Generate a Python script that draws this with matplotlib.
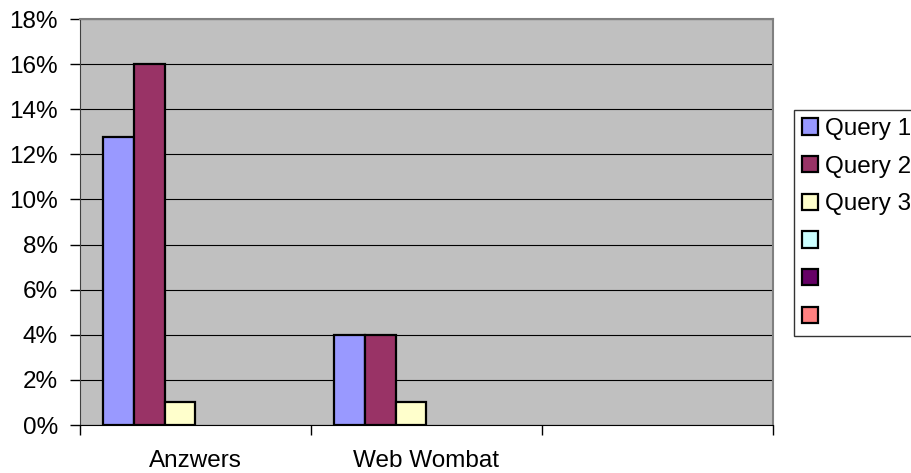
import numpy as np
import matplotlib
matplotlib.use("Agg")
import matplotlib.pyplot as plt
from matplotlib.patches import Patch
from matplotlib.ticker import FixedLocator, FuncFormatter

plt.rcParams['font.family'] = ['Liberation Sans', 'DejaVu Sans']

# values in percent
categories = ['Anzwers', 'Web Wombat', '']
series_names = ['Query 1', 'Query 2', 'Query 3', '', '', '']
query1 = [12.75, 4, 0]
query2 = [16, 4, 0]
query3 = [1, 1, 0]
query4 = [0, 0, 0]
query5 = [0, 0, 0]
query6 = [0, 0, 0]
yticks = [0, 2, 4, 6, 8, 10, 12, 14, 16, 18]

colors = ['#9999FF', '#993366', '#FFFFCC', '#CCFFFF', '#660066', '#FF8080']
all_series = [query1, query2, query3, query4, query5, query6]

fig = plt.figure(figsize=(9.12, 4.73), dpi=100)
ax = fig.add_axes([80 / 912, 48 / 473, 693 / 912, 406 / 473])
ax.set_facecolor('#C0C0C0')

x = np.arange(len(categories))
w = 0.134
for i, (vals, c) in enumerate(zip(all_series, colors)):
    vals = np.array(vals, dtype=float)
    mask = vals > 0
    ax.bar(x[mask] + (i - 2.5) * w, vals[mask], width=w, color=c,
           edgecolor='black', linewidth=1.6, zorder=3)

ax.set_xlim(-0.5, 2.5)
ax.set_ylim(0, 18)
ax.set_yticks(yticks)
ax.yaxis.set_major_formatter(FuncFormatter(lambda v, p: '%d%%' % v))
ax.yaxis.grid(True, color='black', linewidth=0.8, zorder=1)
ax.set_axisbelow(True)

ax.xaxis.set_major_locator(FixedLocator([-0.5, 0.5, 1.5, 2.5]))
ax.xaxis.set_major_formatter(FuncFormatter(lambda v, p: ''))
ax.xaxis.set_minor_locator(FixedLocator(x))
ax.set_xticklabels(categories, minor=True)
ax.tick_params(axis='x', which='major', direction='out', length=7, width=1)
ax.tick_params(axis='x', which='minor', length=0, pad=18, labelsize=17.5)
ax.tick_params(axis='y', direction='out', length=7, width=1, pad=9, labelsize=17.5)

for s in ['top', 'right']:
    ax.spines[s].set_color('#808080')
    ax.spines[s].set_linewidth(1.5)
ax.spines['left'].set_color('#404040')
ax.spines['bottom'].set_color('black')

handles = [Patch(facecolor=c, edgecolor='black', linewidth=1.6) for c in colors]
leg = fig.legend(handles, series_names, loc='upper left',
                 bbox_to_anchor=(794 / 912, 1 - 110 / 473),
                 bbox_transform=fig.transFigure, borderaxespad=0,
                 fontsize=17.5, frameon=True, fancybox=False,
                 handlelength=0.65, handleheight=0.65, handletextpad=0.3,
                 borderpad=0.33, labelspacing=0.645)
leg.get_frame().set_edgecolor('black')
leg.get_frame().set_linewidth(1)

fig.savefig('out.png', dpi=100)
